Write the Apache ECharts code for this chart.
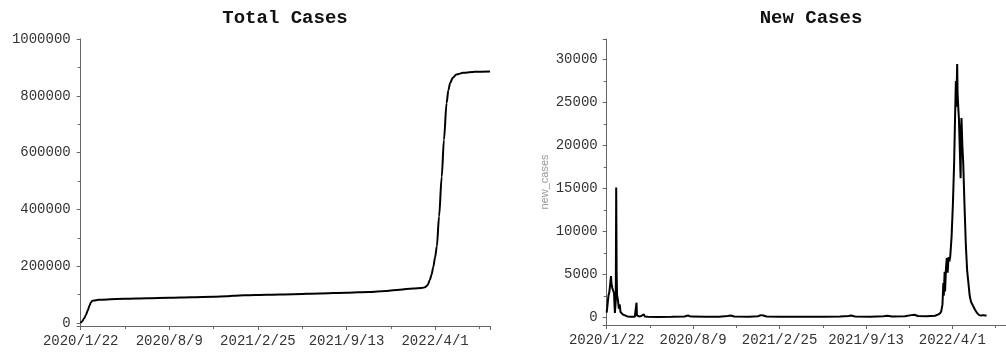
<!DOCTYPE html>
<html>
<head>
<meta charset="utf-8">
<script src="https://cdn.jsdelivr.net/npm/echarts@6/dist/echarts.min.js"></script>
<style>
html,body{margin:0;padding:0;background:#fff;}
#chart{width:1006px;height:355px;}
</style>
</head>
<body>
<div id="chart"></div>
<script>
// Day index since 2020/1/22
const xTickLabels = ['2020/1/22', '2020/8/9', '2021/2/25', '2021/9/13', '2022/4/1'];

const totalDays = [0, 3, 8, 12, 16, 20, 23, 26, 30, 40, 60, 100, 150, 200, 250, 300, 330, 345, 370, 420, 480, 540, 600, 650, 690, 720, 750, 770, 777, 783, 788, 792, 796, 800, 804, 809, 815, 820, 826, 830, 834, 840, 848, 864, 890, 924];
const totalCases = [500, 6000, 17000, 30000, 45000, 62000, 73000, 78000, 80000, 82000, 83500, 86000, 88000, 89500, 91500, 93000, 94500, 96500, 98000, 100000, 102000, 104500, 107000, 110000, 113500, 118000, 122000, 124000, 126000, 133000, 151000, 170000, 198000, 232000, 270000, 375000, 515000, 645000, 775000, 820000, 845000, 864000, 875000, 881000, 885000, 886000];

const newDays = [0, 2, 4, 6, 8, 10, 11, 13, 15, 17, 18, 19, 21, 22, 23, 24, 26, 28, 30, 32, 35, 38, 42, 48, 55, 65, 68, 69, 70, 75, 80, 84, 86, 88, 95, 120, 150, 180, 188, 195, 230, 260, 280, 287, 295, 330, 350, 357, 362, 370, 400, 450, 500, 540, 560, 565, 575, 610, 640, 650, 660, 690, 705, 712, 720, 740, 760, 770, 774, 777, 779, 780, 782, 783, 785, 787, 789, 791, 793, 795, 798, 801, 804, 806, 808, 809, 811, 812, 814, 815, 817, 819, 820, 821, 823, 825, 828, 831, 834, 837, 840, 843, 847, 852, 857, 862, 867, 872, 876, 879];
const newCases = [550, 1500, 2500, 2900, 3800, 4800, 3900, 3400, 3600, 2800, 1500, 500, 2000, 15100, 5000, 2600, 2000, 1000, 1500, 600, 400, 300, 150, 100, 50, 60, 100, 1700, 200, 100, 150, 250, 350, 100, 50, 40, 60, 100, 200, 80, 50, 60, 150, 200, 80, 60, 120, 250, 200, 80, 60, 50, 70, 80, 150, 200, 90, 70, 110, 180, 100, 120, 250, 300, 150, 120, 180, 400, 650, 1500, 4000, 2500, 5300, 3000, 5600, 6900, 5200, 7000, 6500, 7100, 9300, 13000, 18000, 23000, 27500, 24500, 29500, 26000, 24000, 23200, 23000, 16200, 22000, 23200, 20000, 18000, 13000, 8500, 5500, 4000, 2500, 1800, 1400, 900, 500, 250, 200, 250, 200, 180];

const totalData = totalDays.map((d, i) => [d, totalCases[i]]);
const newData = newDays.map((d, i) => [d, newCases[i]]);

const mono = '"Liberation Mono", "DejaVu Sans Mono", monospace';
const axisColor = '#666';
const labelColor = '#333';

function plain(v) { return String(v); }

function xAxisCfg(gridIndex) {
  return {
    type: 'value', gridIndex: gridIndex, min: 0, max: 924, interval: 200,
    axisLine: {onZero: false, lineStyle: {color: axisColor, width: 1}},
    axisTick: {length: 4, lineStyle: {color: axisColor}},
    minorTick: {show: true, splitNumber: 2, length: 3, lineStyle: {color: axisColor}},
    splitLine: {show: false},
    axisLabel: {
      color: labelColor, fontFamily: mono, fontSize: 14, margin: 8,
      showMaxLabel: false,
      formatter: function (v) { const k = Math.round(v / 200); return (v % 200 === 0 && xTickLabels[k]) ? xTickLabels[k] : ''; }
    }
  };
}

const chart = echarts.init(document.getElementById('chart'), null, {renderer: 'canvas'});
chart.setOption({
  animation: false,
  backgroundColor: '#fff',
  title: [
    {text: 'Total Cases', left: 285, top: 9, textAlign: 'center', padding: 0,
     textStyle: {fontFamily: mono, fontWeight: 'bold', fontSize: 19, color: '#111'}},
    {text: 'New Cases', left: 811, top: 9, textAlign: 'center', padding: 0,
     textStyle: {fontFamily: mono, fontWeight: 'bold', fontSize: 19, color: '#111'}}
  ],
  grid: [
    {left: 80.7, top: 39, width: 409.3, height: 287},
    {left: 606.7, top: 39, width: 410, height: 286}
  ],
  xAxis: [xAxisCfg(0), xAxisCfg(1)],
  yAxis: [
    {type: 'value', gridIndex: 0, min: -10000, max: 1000000, splitNumber: 5,
     axisLine: {show: true, lineStyle: {color: axisColor}},
     axisTick: {show: true, length: 4, lineStyle: {color: axisColor}},
     minorTick: {show: true, splitNumber: 2, length: 3, lineStyle: {color: axisColor}},
     splitLine: {show: false},
     axisLabel: {color: labelColor, fontFamily: mono, fontSize: 14, margin: 10, showMinLabel: false, formatter: plain}},
    {type: 'value', gridIndex: 1, min: -900, max: 32400, splitNumber: 7,
     name: 'new_cases', nameLocation: 'middle', nameGap: 56,
     nameTextStyle: {color: '#999', fontSize: 11, fontFamily: 'Liberation Sans, Arial, sans-serif'},
     axisLine: {show: true, lineStyle: {color: axisColor}},
     axisTick: {show: true, length: 4, lineStyle: {color: axisColor}},
     minorTick: {show: true, splitNumber: 2, length: 3, lineStyle: {color: axisColor}},
     splitLine: {show: false},
     axisLabel: {color: labelColor, fontFamily: mono, fontSize: 14, margin: 9, showMinLabel: false, showMaxLabel: false, formatter: plain}}
  ],
  series: [
    {type: 'line', xAxisIndex: 0, yAxisIndex: 0, data: totalData, showSymbol: false,
     smooth: 0.3, smoothMonotone: 'x', lineStyle: {color: '#000', width: 2}},
    {type: 'line', xAxisIndex: 1, yAxisIndex: 1, data: newData, showSymbol: false,
     lineStyle: {color: '#000', width: 2}}
  ]
});
</script>
</body>
</html>
